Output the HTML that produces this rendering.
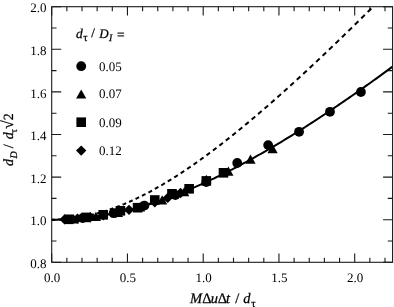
<!DOCTYPE html>
<html><head><meta charset="utf-8"><style>
html,body{margin:0;padding:0;background:#fff;width:394px;height:307px;overflow:hidden;}
svg{display:block;font-family:"Liberation Serif",serif;will-change:transform;}
</style></head><body>
<svg width="394" height="307" viewBox="0 0 394 307"><rect x="0" y="0" width="394" height="307" fill="#fff"/>
<path d="M51.70 262.30v-8.8M51.70 6.70v8.8M66.85 262.30v-4.5M66.85 6.70v4.5M82.00 262.30v-4.5M82.00 6.70v4.5M97.15 262.30v-4.5M97.15 6.70v4.5M112.30 262.30v-4.5M112.30 6.70v4.5M127.45 262.30v-8.8M127.45 6.70v8.8M142.60 262.30v-4.5M142.60 6.70v4.5M157.75 262.30v-4.5M157.75 6.70v4.5M172.90 262.30v-4.5M172.90 6.70v4.5M188.05 262.30v-4.5M188.05 6.70v4.5M203.20 262.30v-8.8M203.20 6.70v8.8M218.35 262.30v-4.5M218.35 6.70v4.5M233.50 262.30v-4.5M233.50 6.70v4.5M248.65 262.30v-4.5M248.65 6.70v4.5M263.80 262.30v-4.5M263.80 6.70v4.5M278.95 262.30v-8.8M278.95 6.70v8.8M294.10 262.30v-4.5M294.10 6.70v4.5M309.25 262.30v-4.5M309.25 6.70v4.5M324.40 262.30v-4.5M324.40 6.70v4.5M339.55 262.30v-4.5M339.55 6.70v4.5M354.70 262.30v-8.8M354.70 6.70v8.8M369.85 262.30v-4.5M369.85 6.70v4.5M385.00 262.30v-4.5M385.00 6.70v4.5M51.70 262.30h9.5M392.57 262.30h-9.5M51.70 241.00h4.8M392.57 241.00h-4.8M51.70 219.70h9.5M392.57 219.70h-9.5M51.70 198.40h4.8M392.57 198.40h-4.8M51.70 177.10h9.5M392.57 177.10h-9.5M51.70 155.80h4.8M392.57 155.80h-4.8M51.70 134.50h9.5M392.57 134.50h-9.5M51.70 113.20h4.8M392.57 113.20h-4.8M51.70 91.90h9.5M392.57 91.90h-9.5M51.70 70.60h4.8M392.57 70.60h-4.8M51.70 49.30h9.5M392.57 49.30h-9.5M51.70 28.00h4.8M392.57 28.00h-4.8M51.70 6.70h9.5M392.57 6.70h-9.5" stroke="#1a1a1a" stroke-width="1.1" fill="none"/>
<rect x="51.70" y="6.70" width="340.88" height="255.60" stroke="#1a1a1a" stroke-width="1.1" fill="none"/>
<clipPath id="c"><rect x="51.70" y="6.70" width="340.88" height="255.60"/></clipPath>
<polyline clip-path="url(#c)" points="51.70,219.70 53.40,219.70 55.11,219.68 56.81,219.66 58.52,219.62 60.22,219.58 61.93,219.53 63.63,219.46 65.34,219.39 67.04,219.31 68.74,219.22 70.45,219.12 72.15,219.00 73.86,218.88 75.56,218.75 77.27,218.61 78.97,218.46 80.67,218.30 82.38,218.13 84.08,217.96 85.79,217.77 87.49,217.57 89.20,217.36 90.90,217.14 92.61,216.92 94.31,216.68 96.01,216.44 97.72,216.18 99.42,215.92 101.13,215.64 102.83,215.36 104.54,215.06 106.24,214.76 107.94,214.45 109.65,214.13 111.35,213.80 113.06,213.46 114.76,213.11 116.47,212.75 118.17,212.39 119.88,212.01 121.58,211.62 123.28,211.23 124.99,210.83 126.69,210.41 128.40,209.99 130.10,209.56 131.81,209.12 133.51,208.68 135.21,208.22 136.92,207.75 138.62,207.28 140.33,206.80 142.03,206.31 143.74,205.81 145.44,205.30 147.15,204.78 148.85,204.26 150.55,203.72 152.26,203.18 153.96,202.63 155.67,202.07 157.37,201.51 159.08,200.93 160.78,200.35 162.48,199.76 164.19,199.16 165.89,198.55 167.60,197.94 169.30,197.32 171.01,196.69 172.71,196.05 174.42,195.40 176.12,194.75 177.82,194.09 179.53,193.42 181.23,192.74 182.94,192.06 184.64,191.37 186.35,190.67 188.05,189.97 189.75,189.26 191.46,188.54 193.16,187.81 194.87,187.08 196.57,186.34 198.28,185.59 199.98,184.83 201.69,184.07 203.39,183.31 205.09,182.53 206.80,181.75 208.50,180.96 210.21,180.17 211.91,179.37 213.62,178.56 215.32,177.75 217.02,176.93 218.73,176.10 220.43,175.27 222.14,174.43 223.84,173.58 225.55,172.73 227.25,171.87 228.95,171.01 230.66,170.14 232.36,169.27 234.07,168.39 235.77,167.50 237.48,166.61 239.18,165.71 240.89,164.81 242.59,163.90 244.29,162.98 246.00,162.06 247.70,161.13 249.41,160.20 251.11,159.27 252.82,158.32 254.52,157.38 256.23,156.42 257.93,155.47 259.63,154.50 261.34,153.54 263.04,152.56 264.75,151.59 266.45,150.60 268.16,149.61 269.86,148.62 271.56,147.62 273.27,146.62 274.97,145.61 276.68,144.60 278.38,143.59 280.09,142.56 281.79,141.54 283.50,140.51 285.20,139.47 286.90,138.43 288.61,137.39 290.31,136.34 292.02,135.29 293.72,134.23 295.43,133.17 297.13,132.10 298.83,131.04 300.54,129.96 302.24,128.88 303.95,127.80 305.65,126.72 307.36,125.62 309.06,124.53 310.76,123.43 312.47,122.33 314.17,121.22 315.88,120.11 317.58,119.00 319.29,117.88 320.99,116.76 322.70,115.64 324.40,114.51 326.10,113.38 327.81,112.24 329.51,111.10 331.22,109.96 332.92,108.81 334.63,107.66 336.33,106.51 338.03,105.35 339.74,104.19 341.44,103.03 343.15,101.86 344.85,100.69 346.56,99.51 348.26,98.34 349.97,97.16 351.67,95.97 353.37,94.78 355.08,93.59 356.78,92.40 358.49,91.21 360.19,90.01 361.90,88.80 363.60,87.60 365.30,86.39 367.01,85.18 368.71,83.96 370.42,82.74 372.12,81.52 373.83,80.30 375.53,79.07 377.24,77.85 378.94,76.61 380.64,75.38 382.35,74.14 384.05,72.90 385.76,71.66 387.46,70.41 389.17,69.16 390.87,67.91 392.57,66.66" stroke="#000" stroke-width="2" fill="none"/>
<path clip-path="url(#c)" d="M51.70 219.70L52.14 219.70L52.58 219.70L53.02 219.69L53.46 219.69L53.90 219.68L54.34 219.68L54.78 219.67L55.22 219.66M58.13 219.57L58.57 219.55L59.01 219.53L59.46 219.51L59.90 219.49L60.34 219.47L60.79 219.44L61.23 219.42L61.67 219.39M64.58 219.19L65.02 219.15L65.46 219.11L65.91 219.08L66.35 219.04L66.79 219.00L67.24 218.95L67.68 218.91L68.12 218.87M71.03 218.55L71.47 218.49L71.91 218.44L72.36 218.38L72.80 218.33L73.24 218.27L73.69 218.21L74.13 218.15L74.57 218.09M77.48 217.65L77.92 217.58L78.36 217.51L78.81 217.44L79.25 217.36L79.69 217.29L80.14 217.21L80.58 217.14L81.02 217.06M83.93 216.51L84.37 216.42L84.81 216.33L85.26 216.24L85.70 216.15L86.14 216.06L86.59 215.97L87.03 215.87L87.47 215.78M90.38 215.12L90.82 215.02L91.26 214.91L91.71 214.81L92.15 214.70L92.59 214.59L93.04 214.48L93.48 214.37L93.92 214.25M96.83 213.49L97.27 213.37L97.71 213.25L98.16 213.13L98.60 213.00L99.04 212.88L99.49 212.75L99.93 212.62L100.37 212.49M103.28 211.62L103.72 211.49L104.16 211.35L104.61 211.21L105.05 211.07L105.49 210.93L105.94 210.79L106.38 210.64L106.82 210.50M109.73 209.53L110.17 209.37L110.61 209.22L111.06 209.07L111.50 208.91L111.94 208.75L112.39 208.60L112.83 208.44L113.27 208.28M116.18 207.21L116.62 207.04L117.06 206.87L117.51 206.70L117.95 206.53L118.39 206.36L118.84 206.19L119.28 206.01L119.72 205.84M122.63 204.67L123.07 204.49L123.51 204.30L123.96 204.12L124.40 203.93L124.84 203.75L125.29 203.56L125.73 203.37L126.17 203.18M129.08 201.92L129.52 201.73L129.96 201.53L130.41 201.33L130.85 201.13L131.29 200.93L131.74 200.73L132.18 200.53L132.62 200.32M135.53 198.97L135.97 198.76L136.41 198.55L136.86 198.34L137.30 198.13L137.74 197.91L138.19 197.70L138.63 197.48L139.07 197.27M141.98 195.83L142.42 195.60L142.86 195.38L143.31 195.16L143.75 194.93L144.19 194.70L144.64 194.48L145.08 194.25L145.52 194.02M148.43 192.50L148.87 192.26L149.31 192.02L149.76 191.79L150.20 191.55L150.64 191.31L151.09 191.07L151.53 190.83L151.97 190.59M154.88 188.98L155.32 188.74L155.76 188.49L156.21 188.24L156.65 187.99L157.09 187.74L157.54 187.49L157.98 187.23L158.42 186.98M161.33 185.30L161.77 185.04L162.21 184.78L162.66 184.52L163.10 184.26L163.54 184.00L163.99 183.73L164.43 183.47L164.87 183.21M167.78 181.45L168.22 181.18L168.66 180.91L169.11 180.64L169.55 180.37L169.99 180.10L170.44 179.82L170.88 179.55L171.32 179.27M174.23 177.45L174.67 177.17L175.11 176.89L175.56 176.61L176.00 176.32L176.44 176.04L176.89 175.75L177.33 175.47L177.77 175.18M180.68 173.30L181.12 173.01L181.56 172.71L182.01 172.42L182.45 172.13L182.89 171.84L183.34 171.54L183.78 171.25L184.22 170.95M187.13 169.00L187.57 168.70L188.01 168.40L188.46 168.10L188.90 167.79L189.34 167.49L189.79 167.19L190.23 166.88L190.67 166.58M193.58 164.57L194.02 164.26L194.46 163.95L194.91 163.64L195.35 163.33L195.79 163.02L196.24 162.70L196.68 162.39L197.12 162.08M200.03 160.01L200.47 159.69L200.91 159.37L201.36 159.05L201.80 158.73L202.24 158.41L202.69 158.09L203.13 157.77L203.57 157.45M206.48 155.32L206.92 155.00L207.36 154.67L207.81 154.34L208.25 154.02L208.69 153.69L209.14 153.36L209.58 153.03L210.02 152.70M212.93 150.52L213.37 150.19L213.81 149.86L214.26 149.52L214.70 149.18L215.14 148.85L215.59 148.51L216.03 148.17L216.47 147.84M219.38 145.61L219.82 145.27L220.26 144.93L220.71 144.59L221.15 144.24L221.59 143.90L222.04 143.56L222.48 143.21L222.92 142.87M225.83 140.60L226.27 140.25L226.71 139.90L227.16 139.55L227.60 139.20L228.04 138.85L228.49 138.50L228.93 138.15L229.37 137.80M232.28 135.48L232.72 135.13L233.16 134.77L233.61 134.41L234.05 134.06L234.49 133.70L234.94 133.34L235.38 132.99L235.82 132.63M238.73 130.27L239.17 129.91L239.61 129.55L240.06 129.18L240.50 128.82L240.94 128.46L241.39 128.10L241.83 127.73L242.27 127.37M245.18 124.97L245.62 124.60L246.06 124.23L246.51 123.87L246.95 123.50L247.39 123.13L247.84 122.76L248.28 122.39L248.72 122.02M251.63 119.58L252.07 119.21L252.51 118.84L252.96 118.46L253.40 118.09L253.84 117.71L254.29 117.34L254.73 116.96L255.17 116.59M258.08 114.12L258.52 113.74L258.96 113.36L259.41 112.98L259.85 112.60L260.29 112.22L260.74 111.84L261.18 111.46L261.62 111.08M264.53 108.57L264.97 108.19L265.41 107.81L265.86 107.42L266.30 107.04L266.74 106.65L267.19 106.27L267.63 105.88L268.07 105.49M270.98 102.96L271.42 102.57L271.86 102.18L272.31 101.79L272.75 101.40L273.19 101.01L273.64 100.62L274.08 100.23L274.52 99.84M277.43 97.27L277.87 96.88L278.31 96.48L278.76 96.09L279.20 95.70L279.64 95.30L280.09 94.91L280.53 94.51L280.97 94.11M283.88 91.52L284.32 91.12L284.76 90.72L285.21 90.32L285.65 89.93L286.09 89.53L286.54 89.13L286.98 88.73L287.42 88.33M290.33 85.70L290.77 85.30L291.21 84.90L291.66 84.50L292.10 84.09L292.54 83.69L292.99 83.29L293.43 82.88L293.87 82.48M296.78 79.83L297.22 79.42L297.66 79.02L298.11 78.61L298.55 78.20L298.99 77.80L299.44 77.39L299.88 76.98L300.32 76.57M303.23 73.90L303.67 73.49L304.11 73.08L304.56 72.67L305.00 72.26L305.44 71.85L305.89 71.44L306.33 71.02L306.77 70.61M309.68 67.91L310.12 67.50L310.56 67.09L311.01 66.67L311.45 66.26L311.89 65.84L312.34 65.43L312.78 65.01L313.22 64.60M316.13 61.88L316.57 61.46L317.01 61.04L317.46 60.63L317.90 60.21L318.34 59.79L318.79 59.37L319.23 58.95L319.67 58.54M322.58 55.79L323.02 55.37L323.46 54.95L323.91 54.53L324.35 54.11L324.79 53.69L325.24 53.27L325.68 52.85L326.12 52.43M329.03 49.66L329.47 49.24L329.91 48.81L330.36 48.39L330.80 47.97L331.24 47.54L331.69 47.12L332.13 46.69L332.57 46.27M335.48 43.48L335.92 43.06L336.36 42.63L336.81 42.21L337.25 41.78L337.69 41.35L338.14 40.93L338.58 40.50L339.02 40.07M341.93 37.27L342.37 36.84L342.81 36.41L343.26 35.98L343.70 35.55L344.14 35.12L344.59 34.69L345.03 34.26L345.47 33.83M348.38 31.01L348.82 30.58L349.26 30.15L349.71 29.71L350.15 29.28L350.59 28.85L351.04 28.42L351.48 27.98L351.92 27.55M354.83 24.71L355.27 24.28L355.71 23.84L356.16 23.41L356.60 22.97L357.04 22.54L357.49 22.10L357.93 21.67L358.37 21.23M361.28 18.38L361.72 17.94L362.16 17.51L362.61 17.07L363.05 16.63L363.49 16.19L363.94 15.76L364.38 15.32L364.82 14.88M367.73 12.01L368.17 11.57L368.61 11.13L369.06 10.69L369.50 10.25L369.94 9.81L370.39 9.37L370.83 8.93L371.27 8.49M374.18 5.61L374.62 5.17L375.06 4.73L375.51 4.29L375.95 3.84L376.39 3.40L376.84 2.96L377.28 2.52L377.72 2.08M380.63 -0.82L381.07 -1.27L381.51 -1.71L381.96 -2.15L382.40 -2.60L382.84 -3.04L383.29 -3.49L383.73 -3.93L384.17 -4.38M387.08 -7.29L387.52 -7.73L387.96 -8.18L388.41 -8.62L388.85 -9.07L389.29 -9.52L389.74 -9.96L390.18 -10.41L390.62 -10.86" stroke="#000" stroke-width="2" fill="none"/>
<g fill="#000"><path d="M64.58 214.22L69.78 219.42L64.58 224.62L59.38 219.42Z"/><path d="M77.47 213.40L82.67 218.60L77.47 223.80L72.27 218.60Z"/><path d="M90.35 212.02L95.55 217.22L90.35 222.42L85.15 217.22Z"/><path d="M103.24 210.09L108.44 215.29L103.24 220.49L98.04 215.29Z"/><path d="M116.12 207.63L121.32 212.83L116.12 218.03L110.92 212.83Z"/><path d="M129.00 204.64L134.20 209.84L129.00 215.04L123.80 209.84Z"/><path d="M141.89 201.15L147.09 206.35L141.89 211.55L136.69 206.35Z"/><path d="M154.77 197.17L159.97 202.37L154.77 207.57L149.57 202.37Z"/><path d="M167.65 192.72L172.85 197.92L167.65 203.12L162.45 197.92Z"/><path d="M180.54 187.82L185.74 193.02L180.54 198.22L175.34 193.02Z"/><rect x="64.08" y="214.50" width="9.6" height="9.6"/><rect x="81.26" y="212.60" width="9.6" height="9.6"/><rect x="98.44" y="210.00" width="9.6" height="9.6"/><rect x="115.61" y="206.00" width="9.6" height="9.6"/><rect x="132.79" y="202.90" width="9.6" height="9.6"/><rect x="149.97" y="195.20" width="9.6" height="9.6"/><rect x="167.15" y="189.00" width="9.6" height="9.6"/><rect x="184.33" y="184.00" width="9.6" height="9.6"/><rect x="201.51" y="176.10" width="9.6" height="9.6"/><rect x="218.68" y="168.00" width="9.6" height="9.6"/><path d="M73.79 214.29L78.89 223.49L68.69 223.49Z"/><path d="M95.87 211.86L100.97 221.06L90.77 221.06Z"/><path d="M117.96 207.83L123.06 217.03L112.86 217.03Z"/><path d="M140.05 202.28L145.15 211.48L134.95 211.48Z"/><path d="M162.13 195.28L167.23 204.48L157.03 204.48Z"/><path d="M184.22 186.94L189.32 196.14L179.12 196.14Z"/><path d="M206.31 174.70L211.41 183.90L201.21 183.90Z"/><path d="M228.39 166.60L233.49 175.80L223.29 175.80Z"/><path d="M250.48 154.60L255.58 163.80L245.38 163.80Z"/><path d="M272.57 144.00L277.67 153.20L267.47 153.20Z"/><circle cx="82.62" cy="218.11" r="4.9"/><circle cx="113.54" cy="213.20" r="4.9"/><circle cx="144.46" cy="205.60" r="4.9"/><circle cx="175.38" cy="195.03" r="4.9"/><circle cx="206.31" cy="181.98" r="4.9"/><circle cx="237.23" cy="163.00" r="4.9"/><circle cx="268.15" cy="145.10" r="4.9"/><circle cx="299.07" cy="131.80" r="4.9"/><circle cx="329.99" cy="111.80" r="4.9"/><circle cx="360.91" cy="92.00" r="4.9"/></g>
<g fill="#000"><circle cx="81.20" cy="66.20" r="4.9"/><path d="M81.20 89.40L86.30 98.60L76.10 98.60Z"/><rect x="76.40" y="117.40" width="9.6" height="9.6"/><path d="M81.20 145.40L86.40 150.60L81.20 155.80L76.00 150.60Z"/></g>
<text x="99.0" y="70.50" font-size="13" font-family="Liberation Serif, serif" text-rendering="geometricPrecision">0.05</text>
<text x="99.0" y="98.30" font-size="13" font-family="Liberation Serif, serif" text-rendering="geometricPrecision">0.07</text>
<text x="99.0" y="126.50" font-size="13" font-family="Liberation Serif, serif" text-rendering="geometricPrecision">0.09</text>
<text x="99.0" y="154.90" font-size="13" font-family="Liberation Serif, serif" text-rendering="geometricPrecision">0.12</text>
<text x="76.00" y="37.70" font-size="13.5" font-style="italic" font-family="Liberation Serif, serif" text-rendering="geometricPrecision" stroke="#000" stroke-width="0.25">d</text>
<text x="83.30" y="40.80" font-size="11" font-family="Liberation Serif, serif" text-rendering="geometricPrecision" stroke="#000" stroke-width="0.25">τ</text>
<text x="91.15" y="37.40" font-size="13" font-family="Liberation Serif, serif" text-rendering="geometricPrecision" stroke="#000" stroke-width="0.25">/</text>
<text x="99.30" y="37.50" font-size="13" font-style="italic" font-family="Liberation Serif, serif" text-rendering="geometricPrecision" stroke="#000" stroke-width="0.25">D</text>
<text x="109.00" y="40.60" font-size="10" font-style="italic" font-family="Liberation Serif, serif" text-rendering="geometricPrecision" stroke="#000" stroke-width="0.25">I</text>
<text x="117.00" y="38.90" font-size="13.5" font-family="Liberation Serif, serif" text-rendering="geometricPrecision" stroke="#000" stroke-width="0.25">=</text>
<text x="52.00" y="281.7" font-size="13" text-anchor="middle" font-family="Liberation Serif, serif" text-rendering="geometricPrecision">0.0</text>
<text x="127.75" y="281.7" font-size="13" text-anchor="middle" font-family="Liberation Serif, serif" text-rendering="geometricPrecision">0.5</text>
<text x="203.50" y="281.7" font-size="13" text-anchor="middle" font-family="Liberation Serif, serif" text-rendering="geometricPrecision">1.0</text>
<text x="279.25" y="281.7" font-size="13" text-anchor="middle" font-family="Liberation Serif, serif" text-rendering="geometricPrecision">1.5</text>
<text x="355.00" y="281.7" font-size="13" text-anchor="middle" font-family="Liberation Serif, serif" text-rendering="geometricPrecision">2.0</text>
<text x="46.4" y="267.90" font-size="13" text-anchor="end" font-family="Liberation Serif, serif" text-rendering="geometricPrecision">0.8</text>
<text x="46.4" y="225.30" font-size="13" text-anchor="end" font-family="Liberation Serif, serif" text-rendering="geometricPrecision">1.0</text>
<text x="46.4" y="182.70" font-size="13" text-anchor="end" font-family="Liberation Serif, serif" text-rendering="geometricPrecision">1.2</text>
<text x="46.4" y="140.10" font-size="13" text-anchor="end" font-family="Liberation Serif, serif" text-rendering="geometricPrecision">1.4</text>
<text x="46.4" y="97.50" font-size="13" text-anchor="end" font-family="Liberation Serif, serif" text-rendering="geometricPrecision">1.6</text>
<text x="46.4" y="54.90" font-size="13" text-anchor="end" font-family="Liberation Serif, serif" text-rendering="geometricPrecision">1.8</text>
<text x="46.4" y="12.30" font-size="13" text-anchor="end" font-family="Liberation Serif, serif" text-rendering="geometricPrecision">2.0</text>
<text x="189.90" y="302.90" font-size="14.5" font-style="italic" font-family="Liberation Serif, serif" text-rendering="geometricPrecision" stroke="#000" stroke-width="0.25">M</text>
<text x="202.20" y="302.90" font-size="14.5" font-family="Liberation Serif, serif" text-rendering="geometricPrecision" stroke="#000" stroke-width="0.25">Δ</text>
<text x="210.67" y="302.90" font-size="14.5" font-style="italic" font-family="Liberation Serif, serif" text-rendering="geometricPrecision" stroke="#000" stroke-width="0.25">u</text>
<text x="217.75" y="302.90" font-size="14.5" font-family="Liberation Serif, serif" text-rendering="geometricPrecision" stroke="#000" stroke-width="0.25">Δ</text>
<text x="226.07" y="302.90" font-size="14.5" font-style="italic" font-family="Liberation Serif, serif" text-rendering="geometricPrecision" stroke="#000" stroke-width="0.25">t</text>
<text x="235.13" y="302.90" font-size="14.5" font-family="Liberation Serif, serif" text-rendering="geometricPrecision" stroke="#000" stroke-width="0.25">/</text>
<text x="243.24" y="302.90" font-size="14.5" font-style="italic" font-family="Liberation Serif, serif" text-rendering="geometricPrecision" stroke="#000" stroke-width="0.25">d</text>
<text x="251.30" y="306.60" font-size="11" font-family="Liberation Serif, serif" text-rendering="geometricPrecision" stroke="#000" stroke-width="0.25">τ</text>
<g transform="translate(13.1,166) rotate(-90)"><text x="0.00" y="0.00" font-size="14" font-style="italic" font-family="Liberation Serif, serif" text-rendering="geometricPrecision" stroke="#000" stroke-width="0.25">d</text><text x="7.40" y="3.80" font-size="10" font-style="italic" font-family="Liberation Serif, serif" text-rendering="geometricPrecision" stroke="#000" stroke-width="0.25">D</text><text x="17.70" y="0.00" font-size="14" font-family="Liberation Serif, serif" text-rendering="geometricPrecision" stroke="#000" stroke-width="0.25">/</text><text x="26.80" y="0.00" font-size="14" font-style="italic" font-family="Liberation Serif, serif" text-rendering="geometricPrecision" stroke="#000" stroke-width="0.25">d</text><text x="33.00" y="3.60" font-size="10" font-family="Liberation Serif, serif" text-rendering="geometricPrecision" stroke="#000" stroke-width="0.25">τ</text><text x="37.00" y="0.00" font-size="16" font-family="Liberation Serif, serif" text-rendering="geometricPrecision" stroke="#000" stroke-width="0.25">√</text><text x="45.70" y="0.00" font-size="14" font-family="Liberation Serif, serif" text-rendering="geometricPrecision" stroke="#000" stroke-width="0.25">2</text></g></svg>
</body></html>
